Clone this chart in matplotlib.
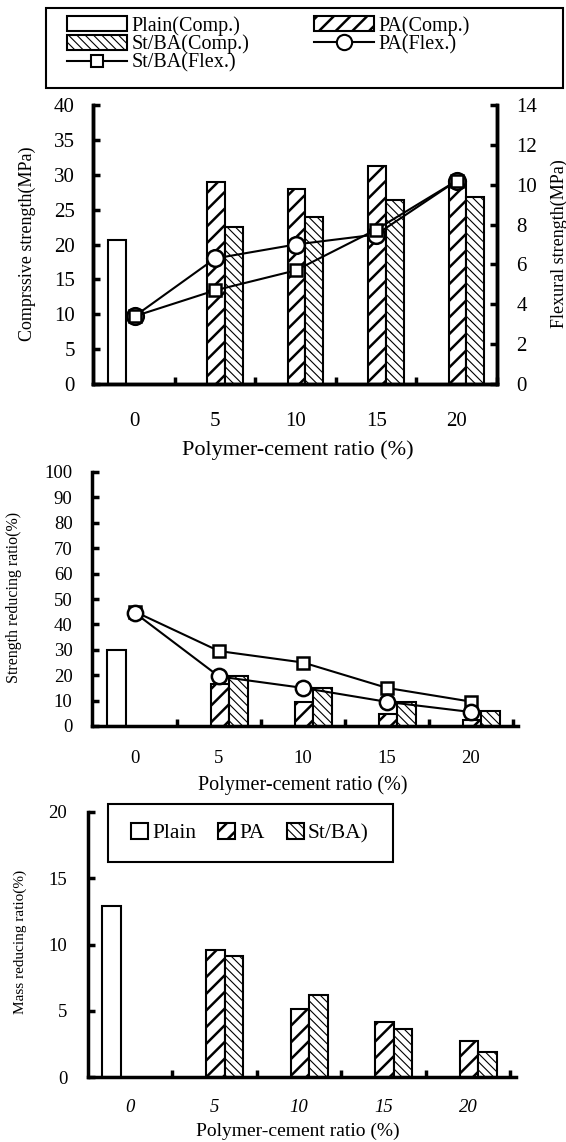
import numpy as np
import matplotlib
matplotlib.use('Agg')
import matplotlib.pyplot as plt
from matplotlib.patches import Patch, Rectangle
from matplotlib.lines import Line2D

plt.rcParams['font.family'] = ['Liberation Serif', 'DejaVu Serif']

ratios = ['0', '5', '10', '15', '20']

# compressive (left axis) and flexural (right axis) strength, MPa
plain_comp = [20.6]
pa_comp = [28.9, 28.0, 31.3, 29.0]
stba_comp = [22.5, 23.9, 26.4, 26.8]
pa_flex = [3.4, 6.3, 7.0, 7.5, 10.2]
stba_flex = [3.4, 4.7, 5.7, 7.75, 10.2]

# strength reducing ratio, %
plain_sr = [30.0]
pa_sr = [16.5, 9.5, 4.8, 2.5]
stba_sr = [19.5, 14.8, 9.3, 6.0]
pa_flex_sr = [44.5, 19.5, 15.0, 9.5, 5.5]
stba_flex_sr = [45.0, 29.5, 25.0, 15.0, 9.6]

# mass reducing ratio, %
plain_mr = [12.9]
pa_mr = [9.55, 5.1, 4.15, 2.7]
stba_mr = [9.15, 6.2, 3.65, 1.9]

W, H = 566, 1142
fig = plt.figure(figsize=(W / 100, H / 100), dpi=100)


def rect(l, t, r, b):
    return [l / W, 1 - b / H, (r - l) / W, (b - t) / H]


PA_HATCH = '//'
ST_HATCH = '\\\\\\\\'
PA_HLW = 1.8
ST_HLW = 0.8


def hatch_lw(patches, lw):
    for p in patches:
        if hasattr(p, 'set_hatch_linewidth'):
            p.set_hatch_linewidth(lw)


def draw_bars(ax, plain, pa, stba, w=0.22):
    x = np.arange(len(ratios))
    ax.bar(x[:1] - w, plain, w, color='white', edgecolor='black', lw=1.5, zorder=2)
    with plt.rc_context({'hatch.linewidth': PA_HLW}):
        b1 = ax.bar(x[1:] + 0.01, pa, w, color='white', edgecolor='black',
                    lw=1.5, hatch=PA_HATCH, zorder=2)
    hatch_lw(b1, PA_HLW)
    with plt.rc_context({'hatch.linewidth': ST_HLW}):
        b2 = ax.bar(x[1:] + w + 0.01, stba, w, color='white', edgecolor='black',
                    lw=1.5, hatch=ST_HATCH, zorder=2)
    hatch_lw(b2, ST_HLW)


def fix_legend_hatch(leg):
    for hnd in leg.legend_handles:
        if hasattr(hnd, 'get_hatch') and hnd.get_hatch():
            lw = PA_HLW if '/' in hnd.get_hatch() else ST_HLW
            hatch_lw([hnd], lw)


def style(ax, xlim, tlsize, ypad, xpad, italic=False, right=False):
    x = np.arange(len(ratios))
    ax.set_xlim(*xlim)
    ax.set_xticks(x)
    ax.set_xticklabels(ratios, fontstyle='italic' if italic else 'normal')
    ax.set_xticks(np.arange(0.5, 4.6, 1), minor=True)
    ax.tick_params(axis='x', which='major', length=0, pad=xpad, labelsize=tlsize)
    ax.tick_params(axis='x', which='minor', direction='in', length=5, width=2.5)
    ax.tick_params(axis='y', which='major', direction='in', length=5, width=2.5,
                   pad=ypad, labelsize=tlsize)
    ax.spines['top'].set_visible(False)
    ax.spines['right'].set_visible(right)
    for s in ax.spines.values():
        s.set_linewidth(2.5)


# ---- top panel ----
ax1 = fig.add_axes(rect(93, 105, 497, 384))
draw_bars(ax1, plain_comp, pa_comp, stba_comp)
ax1.set_ylim(0, 40)
ax1.set_yticks(np.arange(0, 41, 5))
style(ax1, (-0.517, 4.455), 15, 13, 20, right=True)

ax1r = ax1.twinx()
ax1r.set_ylim(0, 14)
ax1r.set_yticks(np.arange(0, 15, 2))
ax1r.tick_params(axis='y', direction='in', length=5, width=2.5, pad=14, labelsize=15)
ax1r.spines['top'].set_visible(False)
for s in ax1r.spines.values():
    s.set_linewidth(2.5)
xp = np.arange(len(ratios))
ax1r.plot(xp, pa_flex, color='black', lw=1.5, marker='o', ms=12,
          mfc='white', mec='black', mew=1.8)
ax1r.plot(xp, stba_flex, color='black', lw=1.5, marker='s', ms=9,
          mfc='white', mec='black', mew=1.8)

fig.text(27 / W, 1 - 244 / H, 'Comprssive strength(MPa)', rotation=90,
         ha='center', va='center', fontsize=13)
fig.text(559 / W, 1 - 244 / H, 'Flexural strength(MPa)', rotation=90,
         ha='center', va='center', fontsize=13)
fig.text(298 / W, 1 - 450 / H, 'Polymer-cement ratio (%)',
         ha='center', va='center', fontsize=16)

fig.add_artist(Rectangle((46 / W, 1 - 88 / H), 517 / W, 80 / H,
                         transform=fig.transFigure, fill=False,
                         edgecolor='black', lw=1.5))
h_plain = Patch(facecolor='white', edgecolor='black', lw=1.5)
h_pa = Patch(facecolor='white', edgecolor='black', lw=1.5, hatch=PA_HATCH)
h_st = Patch(facecolor='white', edgecolor='black', lw=1.5, hatch=ST_HATCH)
h_paf = Line2D([], [], color='black', lw=1.5, marker='o', ms=11,
               mfc='white', mec='black', mew=1.5)
h_stf = Line2D([], [], color='black', lw=1.5, marker='s', ms=9,
               mfc='white', mec='black', mew=1.5)
leg1 = fig.legend([h_plain, h_st, h_stf, h_pa, h_paf],
                  ['Plain(Comp.)', 'St/BA(Comp.)', 'St/BA(Flex.)', 'PA(Comp.)', 'PA(Flex.)'],
                  loc='upper left', bbox_to_anchor=(67 / W, 1 - 16 / H), ncol=2,
                  frameon=False, fontsize=14.5, handlelength=3.0, handleheight=0.75,
                  labelspacing=-0.05, columnspacing=3.2, handletextpad=0.2,
                  borderpad=0, borderaxespad=0)
fix_legend_hatch(leg1)

# ---- middle panel ----
ax2 = fig.add_axes(rect(92, 472, 518, 726))
draw_bars(ax2, plain_sr, pa_sr, stba_sr)
ax2.plot(xp, stba_flex_sr, color='black', lw=1.5, marker='s', ms=9,
         mfc='white', mec='black', mew=1.8, zorder=3)
ax2.plot(xp, pa_flex_sr, color='black', lw=1.5, marker='o', ms=11,
         mfc='white', mec='black', mew=1.8, zorder=3)
ax2.set_ylim(0, 100)
ax2.set_yticks(np.arange(0, 101, 10))
style(ax2, (-0.512, 4.56), 13.5, 14, 17)
fig.text(14 / W, 1 - 597 / H, 'Strength reducing ratio(%)', rotation=90,
         ha='center', va='center', fontsize=11.5)
fig.text(303 / W, 1 - 785 / H, 'Polymer-cement ratio (%)',
         ha='center', va='center', fontsize=14.5)

# ---- bottom panel ----
ax3 = fig.add_axes(rect(88, 812, 516, 1077))
draw_bars(ax3, plain_mr, pa_mr, stba_mr)
ax3.set_ylim(0, 20)
ax3.set_yticks(np.arange(0, 21, 5))
style(ax3, (-0.497, 4.568), 13.5, 15, 16, italic=True)
fig.text(20 / W, 1 - 942 / H, 'Mass reducing ratio(%)', rotation=90,
         ha='center', va='center', fontsize=11)
fig.text(298 / W, 1 - 1131 / H, 'Polymer-cement ratio (%)',
         ha='center', va='center', fontsize=14)

fig.add_artist(Rectangle((108 / W, 1 - 862 / H), 285 / W, 58 / H,
                         transform=fig.transFigure, fill=False,
                         edgecolor='black', lw=1.5))
leg3 = fig.legend([h_plain, h_pa, h_st], ['Plain', 'PA', 'St/BA)'],
                  loc='center', bbox_to_anchor=(250 / W, 1 - 833 / H), ncol=3,
                  frameon=False, fontsize=15.5, handlelength=0.8, handleheight=0.8,
                  handletextpad=0.2, columnspacing=1.0, borderpad=0, borderaxespad=0)
fix_legend_hatch(leg3)

fig.savefig('out.png', dpi=100)
